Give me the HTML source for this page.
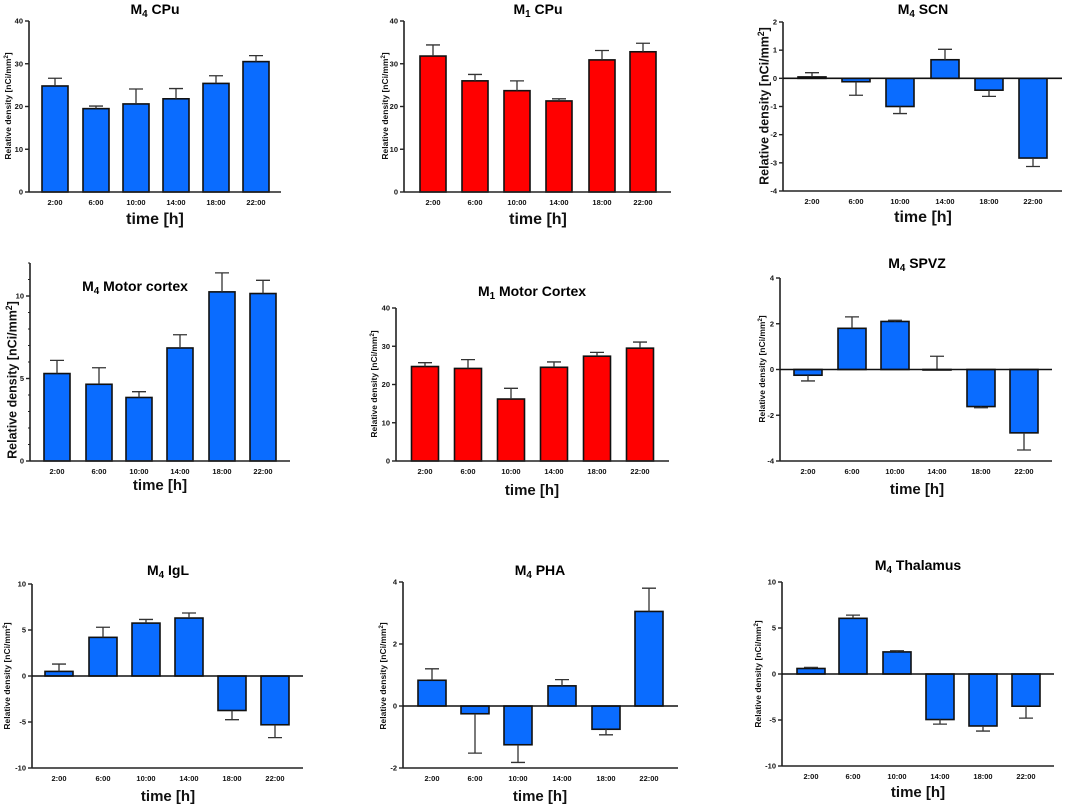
<!DOCTYPE html>
<html><head><meta charset="utf-8">
<style>
html,body{margin:0;padding:0;background:#fff;}
svg{display:block;font-family:"Liberation Sans",Arial,sans-serif;}
</style></head>
<body>
<svg id="chart" width="1065" height="804" viewBox="0 0 1065 804" xmlns="http://www.w3.org/2000/svg"></svg>
<script>
const categories = ["2:00","6:00","10:00","14:00","18:00","22:00"];
const m4CpuValues = [24.8,19.5,20.6,21.8,25.4,30.5];
const m4CpuErrors = [1.8,0.6,3.5,2.4,1.8,1.4];
const m1CpuValues = [31.8,26.0,23.7,21.3,30.9,32.8];
const m1CpuErrors = [2.6,1.5,2.3,0.5,2.2,2.0];
const m4ScnValues = [0.05,-0.12,-1.0,0.66,-0.42,-2.83];
const m4ScnErrors = [0.15,0.48,0.25,0.37,0.22,0.3];
const m4MotorValues = [5.3,4.65,3.85,6.85,10.25,10.15];
const m4MotorErrors = [0.8,1.0,0.35,0.8,1.15,0.8];
const m1MotorValues = [24.7,24.2,16.2,24.5,27.4,29.5];
const m1MotorErrors = [1.0,2.3,2.8,1.4,1.0,1.6];
const m4SpvzValues = [-0.25,1.8,2.1,0,-1.62,-2.77];
const m4SpvzErrors = [0.25,0.5,0.05,0.58,0.05,0.75];
const m4IglValues = [0.5,4.2,5.75,6.3,-3.75,-5.3];
const m4IglErrors = [0.8,1.1,0.4,0.55,1.0,1.4];
const m4PhaValues = [0.83,-0.25,-1.25,0.65,-0.75,3.05];
const m4PhaErrors = [0.37,1.27,0.57,0.2,0.18,0.75];
const m4ThalValues = [0.6,6.05,2.4,-4.95,-5.65,-3.5];
const m4ThalErrors = [0.12,0.35,0.12,0.5,0.55,1.3];
const ticksCpu = [0,10,20,30,40];
const ticksScn = [-4,-3,-2,-1,0,1,2];
const ticksMotor = [0,5,10];
const ticksSpvz = [-4,-2,0,2,4];
const ticksIgl = [-10,-5,0,5,10];
const ticksPha = [-2,0,2,4];

const panels = [
 {id:"m4-cpu",sub:"4",name:" CPu",vals:m4CpuValues,errs:m4CpuErrors,ticks:ticksCpu,min:0,max:40,color:"#0a6cff",
  ax:29,x1:281,yTop:21,yBot:192,centers:[55,96,136,176,216,256],bw:26,tx:155,ty:14,ts:14,lx:155,ly:224,ls:16,yx:8,ys:8.5,yc:106},
 {id:"m1-cpu",sub:"1",name:" CPu",vals:m1CpuValues,errs:m1CpuErrors,ticks:ticksCpu,min:0,max:40,color:"#ff0000",
  ax:404,x1:671,yTop:21,yBot:192,centers:[433,475,517,559,602,643],bw:26,tx:538,ty:14,ts:14,lx:538,ly:224,ls:16,yx:385,ys:8.5,yc:106},
 {id:"m4-scn",sub:"4",name:" SCN",vals:m4ScnValues,errs:m4ScnErrors,ticks:ticksScn,min:-4,max:2,color:"#0a6cff",
  ax:783,x1:1062,yTop:22,yBot:191,centers:[812,856,900,945,989,1033],bw:28,tx:923,ty:14,ts:14,lx:923,ly:222,ls:16,yx:764,ys:12.5,yc:106},
 {id:"m4-motor",sub:"4",name:" Motor cortex",vals:m4MotorValues,errs:m4MotorErrors,ticks:ticksMotor,min:0,max:12,color:"#0a6cff",minor:1,
  ax:30,x1:290,yTop:263,yBot:461,centers:[57,99,139,180,222,263],bw:26,tx:135,ty:291,ts:14,lx:160,ly:490,ls:15,yx:12,ys:12.5,yc:380},
 {id:"m1-motor",sub:"1",name:" Motor Cortex",vals:m1MotorValues,errs:m1MotorErrors,ticks:ticksCpu,min:0,max:40,color:"#ff0000",
  ax:396,x1:669,yTop:308,yBot:461,centers:[425,468,511,554,597,640],bw:27,tx:532,ty:296,ts:14,lx:532,ly:495,ls:15,yx:374,ys:8.5,yc:384},
 {id:"m4-spvz",sub:"4",name:" SPVZ",vals:m4SpvzValues,errs:m4SpvzErrors,ticks:ticksSpvz,min:-4,max:4,color:"#0a6cff",
  ax:780,x1:1052,yTop:278,yBot:461,centers:[808,852,895,937,981,1024],bw:28,tx:917,ty:268,ts:14,lx:917,ly:494,ls:15,yx:762,ys:8.5,yc:369},
 {id:"m4-igl",sub:"4",name:" IgL",vals:m4IglValues,errs:m4IglErrors,ticks:ticksIgl,min:-10,max:10,color:"#0a6cff",
  ax:32,x1:303,yTop:584,yBot:768,centers:[59,103,146,189,232,275],bw:28,tx:168,ty:575,ts:14,lx:168,ly:801,ls:15,yx:7,ys:8.5,yc:676},
 {id:"m4-pha",sub:"4",name:" PHA",vals:m4PhaValues,errs:m4PhaErrors,ticks:ticksPha,min:-2,max:4,color:"#0a6cff",
  ax:403,x1:678,yTop:582,yBot:768,centers:[432,475,518,562,606,649],bw:28,tx:540,ty:575,ts:14,lx:540,ly:801,ls:15,yx:383,ys:8.5,yc:676},
 {id:"m4-thalamus",sub:"4",name:" Thalamus",vals:m4ThalValues,errs:m4ThalErrors,ticks:ticksIgl,min:-10,max:10,color:"#0a6cff",
  ax:782,x1:1054,yTop:582,yBot:766,centers:[811,853,897,940,983,1026],bw:28,tx:918,ty:570,ts:14,lx:918,ly:797,ls:15,yx:758,ys:8.5,yc:674}
];

const NS="http://www.w3.org/2000/svg";
const svg=document.getElementById("chart");
function mk(tag,attrs,parent){const e=document.createElementNS(NS,tag);for(const k in attrs)e.setAttribute(k,attrs[k]);(parent||svg).appendChild(e);return e;}

panels.forEach(p=>{
  const g=mk("g",{});
  
  
  const y=v=>p.yBot-(v-p.min)/(p.max-p.min)*(p.yBot-p.yTop);
  const x0=y(Math.max(0,p.min));
  const t=mk("text",{x:p.tx,y:p.ty,"text-anchor":"middle","font-size":p.ts,"font-weight":"bold",fill:"#000"},g);
  
  
  const ts1=mk("tspan",{},t);ts1.textContent="M";
  const ts2=mk("tspan",{dy:3,"font-size":p.ts*0.7},t);ts2.textContent=p.sub;
  const ts3=mk("tspan",{dy:-3},t);ts3.textContent=p.name;
  p.vals.forEach((v,i)=>{
    const cx=p.centers[i];
    const yv=y(v);
    const top=Math.min(yv,x0),h=Math.abs(yv-x0);
    const r=mk("rect",{x:cx-p.bw/2,y:top,width:p.bw,height:Math.max(h,0.5),fill:p.color,stroke:"#111","stroke-width":1.6},g);
    
    
    const sign=v<0?-1:1;
    const ye=y(v+sign*p.errs[i]);
    const e=mk("path",{d:`M${cx},${yv}L${cx},${ye}M${cx-7},${ye}L${cx+7},${ye}`,stroke:"#333","stroke-width":1.3,fill:"none"},g);
    
    
    const lb=mk("text",{x:cx,y:p.yBot+13,"text-anchor":"middle","font-size":7.5,"font-weight":"bold",fill:"#111"},g);
    
    
    lb.textContent=categories[i];
  });
  const ya=mk("line",{x1:p.ax,y1:p.yTop,x2:p.ax,y2:p.yBot,stroke:"#222","stroke-width":1.6},g);
  
  
  const xa=mk("line",{x1:p.ax,y1:p.yBot,x2:p.x1,y2:p.yBot,stroke:"#222","stroke-width":1.6},g);
  
  
  if(p.min<0){
    const zl=mk("line",{x1:p.ax,y1:x0,x2:p.x1,y2:x0,stroke:"#111","stroke-width":1.6},g);
    
    
  }
  if(p.minor){
    for(let v=p.min;v<=p.max;v+=p.minor){
      mk("line",{x1:p.ax-2,y1:y(v),x2:p.ax,y2:y(v),stroke:"#222","stroke-width":1},g);
    }
  }
  p.ticks.forEach(v=>{
    mk("line",{x1:p.ax-4,y1:y(v),x2:p.ax,y2:y(v),stroke:"#222","stroke-width":1.4},g);
    const tl=mk("text",{x:p.ax-6,y:y(v)+2.5,"text-anchor":"end","font-size":7.5,"font-weight":"bold",fill:"#111"},g);
    
    
    tl.textContent=v;
  });
  const xl=mk("text",{x:p.lx,y:p.ly,"text-anchor":"middle","font-size":p.ls,"font-weight":"bold",fill:"#111"},g);
  
  
  xl.textContent="time [h]";
  const yl=mk("text",{x:0,y:0,"text-anchor":"middle","font-size":p.ys,"font-weight":"bold",fill:"#111",transform:`translate(${p.yx+p.ys*0.35},${p.yc}) rotate(-90)`},g);
  
  
  const a=mk("tspan",{},yl);a.textContent="Relative density [nCi/mm";
  const b=mk("tspan",{dy:-p.ys*0.35,"font-size":p.ys*0.7},yl);b.textContent="2";
  const c=mk("tspan",{dy:p.ys*0.35},yl);c.textContent="]";
});
</script>
</body></html>
